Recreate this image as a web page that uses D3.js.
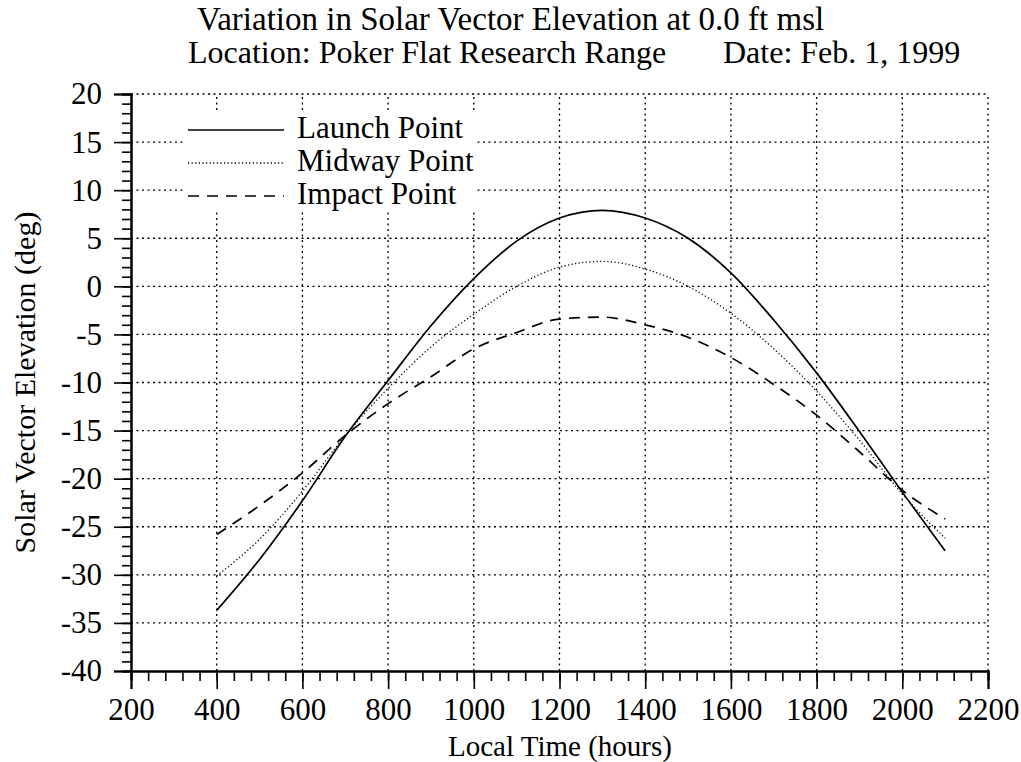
<!DOCTYPE html>
<html>
<head>
<meta charset="utf-8">
<script src="https://cdn.jsdelivr.net/npm/d3@7"></script>
<style>
  html, body { margin: 0; padding: 0; background: #fff; }
  svg { display: block; font-family: "Liberation Serif", "Times New Roman", serif; }
</style>
</head>
<body>
<svg id="chart" width="1021" height="762"></svg>
<script>
// ---- data ----
const hours = [400, 500, 600, 700, 800, 900, 1000, 1100, 1200, 1300, 1400, 1500, 1600, 1700, 1800, 1900, 2000, 2100];
const launchPoint = [-33.7, -28.4, -22.3, -15.6, -9.8, -4.1, 0.8, 4.7, 7.1, 7.9, 7.1, 5.0, 1.4, -3.5, -9.0, -15.1, -21.4, -27.5];
const midwayPoint = [-30.1, -26.3, -21.3, -15.5, -10.6, -6.3, -2.9, 0.0, 2.0, 2.6, 1.8, 0.0, -2.8, -6.5, -10.9, -16.0, -21.6, -26.2];
const impactPoint = [-25.8, -22.8, -19.4, -15.5, -12.2, -9.4, -6.5, -4.8, -3.4, -3.2, -4.0, -5.3, -7.4, -10.2, -13.4, -17.2, -21.2, -24.2];
const seriesNames = ["Launch Point", "Midway Point", "Impact Point"];
const xTickValues = [200, 400, 600, 800, 1000, 1200, 1400, 1600, 1800, 2000, 2200];
const yTickValues = [-40, -35, -30, -25, -20, -15, -10, -5, 0, 5, 10, 15, 20];
const titleLine1 = "Variation in Solar Vector Elevation at 0.0 ft msl";
const titleLine2a = "Location: Poker Flat Research Range";
const titleLine2b = "Date: Feb. 1, 1999";
const xTitle = "Local Time (hours)";
const yTitle = "Solar Vector Elevation (deg)";

// ---- layout ----
const svg = d3.select("#chart");
const pLeft = 131, pRight = 988, pTop = 94, pBottom = 671;
const x = d3.scaleLinear().domain([200, 2200]).range([pLeft, pRight]);
const y = d3.scaleLinear().domain([-40, 20]).range([pBottom, pTop]);

// grid (dotted)
const grid = svg.append("g").attr("stroke", "#000").attr("stroke-width", 1.3)
  .attr("stroke-dasharray", "2,3.5").attr("fill", "none");
grid.selectAll("line.v").data(xTickValues.filter(d => d > 200)).join("line")
  .attr("class", "v")
  .attr("x1", d => x(d)).attr("x2", d => x(d)).attr("y1", y(-40)).attr("y2", y(20));
grid.selectAll("line.h").data(yTickValues.filter(d => d > -40)).join("line")
  .attr("class", "h")
  .attr("x1", x(200)).attr("x2", x(2200)).attr("y1", d => y(d)).attr("y2", d => y(d));

// legend background blocks grid
svg.append("rect").attr("x", 183).attr("y", 113).attr("width", 294).attr("height", 99).attr("fill", "#fff");

// axes
const plain = d => String(d);
const xAxisMinor = d3.axisBottom(x).tickValues(d3.range(200, 2201, 40)).tickSize(10).tickFormat("");
const xAxisMajor = d3.axisBottom(x).tickValues(xTickValues).tickSize(18).tickPadding(9).tickFormat(plain);
const yAxisMinor = d3.axisLeft(y).tickValues(d3.range(-40, 21, 1)).tickSize(9).tickFormat("");
const yAxisMajor = d3.axisLeft(y).tickValues(yTickValues).tickSize(17).tickPadding(12).tickFormat(plain);

function styleAxis(g) {
  g.select(".domain").attr("stroke", "#000").attr("stroke-width", 2);
  g.selectAll(".tick line").attr("stroke", "#000").attr("stroke-width", 1.6);
  g.selectAll(".tick text").attr("fill", "#000")
    .attr("font-family", "Liberation Serif, Times New Roman, serif").attr("font-size", 31);
}
svg.append("g").attr("transform", `translate(0,${pBottom})`).call(xAxisMinor).call(styleAxis);
svg.append("g").attr("transform", `translate(0,${pBottom})`).call(xAxisMajor).call(styleAxis)
  .selectAll(".tick text").attr("dy", "0.71em");
svg.append("g").attr("transform", `translate(${pLeft},0)`).call(yAxisMinor).call(styleAxis);
svg.append("g").attr("transform", `translate(${pLeft},0)`).call(yAxisMajor).call(styleAxis);

// lines
const line = d3.line().x((d, i) => x(hours[i])).y(d => y(d)).curve(d3.curveMonotoneX);
const styles = [
  { data: launchPoint, dash: null, width: 1.7 },
  { data: midwayPoint, dash: "1.2,2.4", width: 1.3 },
  { data: impactPoint, dash: "11,8", width: 1.7 }
];
styles.forEach(s => {
  svg.append("path").datum(s.data).attr("d", line)
    .attr("fill", "none").attr("stroke", "#000").attr("stroke-width", s.width)
    .attr("stroke-dasharray", s.dash);
});

// legend
const legY = [130, 163, 196];
seriesNames.forEach((name, i) => {
  svg.append("line").attr("x1", 188).attr("x2", 284).attr("y1", legY[i]).attr("y2", legY[i])
    .attr("stroke", "#000").attr("stroke-width", styles[i].width)
    .attr("stroke-dasharray", styles[i].dash);
  svg.append("text").attr("x", 297).attr("y", legY[i] + 8).attr("font-size", 31)
    .attr("fill", "#000").text(name);
});

// titles
svg.append("text").attr("x", 197).attr("y", 30).attr("font-size", 33).text(titleLine1);
svg.append("text").attr("x", 188).attr("y", 63).attr("font-size", 32).text(titleLine2a);
svg.append("text").attr("x", 723).attr("y", 63).attr("font-size", 32).text(titleLine2b);
svg.append("text").attr("x", 560).attr("y", 756).attr("font-size", 29)
  .attr("text-anchor", "middle").text(xTitle);
svg.append("text").attr("transform", `translate(35,${(pTop + pBottom) / 2}) rotate(-90)`)
  .attr("font-size", 30).attr("text-anchor", "middle").text(yTitle);
</script>
</body>
</html>
